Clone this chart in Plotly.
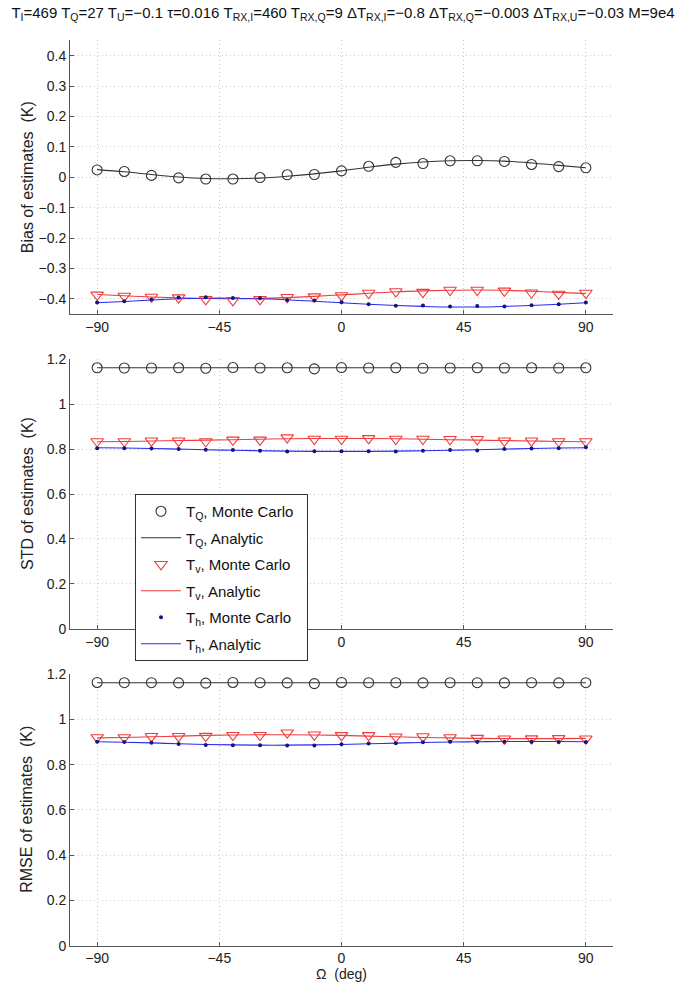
import plotly.graph_objects as go

# ---------------- data ----------------
omega = [-90, -80, -70, -60, -50, -40, -30, -20, -10, 0, 10, 20, 30, 40, 50, 60, 70, 80, 90]

# Bias
bias_tq_mc = [0.024, 0.019, 0.006, -0.002, -0.006, -0.006, -0.001, 0.008, 0.009, 0.021,
              0.036, 0.049, 0.045, 0.054, 0.054, 0.052, 0.042, 0.035, 0.031]
bias_tq_an = [0.025, 0.018, 0.009, 0.001, -0.004, -0.005, -0.003, 0.003, 0.011, 0.021,
              0.033, 0.043, 0.050, 0.054, 0.055, 0.053, 0.047, 0.039, 0.031]
bias_tv_mc = [-0.387, -0.391, -0.394, -0.396, -0.402, -0.405, -0.402, -0.395, -0.393, -0.389,
              -0.381, -0.376, -0.378, -0.371, -0.371, -0.374, -0.380, -0.384, -0.381]
bias_tv_an = [-0.386, -0.390, -0.394, -0.397, -0.399, -0.400, -0.399, -0.396, -0.392, -0.387,
              -0.382, -0.377, -0.374, -0.372, -0.371, -0.372, -0.375, -0.379, -0.383]
bias_th_mc = [-0.412, -0.408, -0.402, -0.396, -0.395, -0.397, -0.398, -0.404, -0.406, -0.411,
              -0.418, -0.423, -0.422, -0.425, -0.424, -0.425, -0.421, -0.418, -0.412]
bias_th_an = [-0.413, -0.409, -0.404, -0.400, -0.398, -0.398, -0.400, -0.403, -0.408, -0.413,
              -0.418, -0.422, -0.425, -0.427, -0.427, -0.425, -0.422, -0.418, -0.413]

# STD
std_tq_mc = [1.162, 1.161, 1.161, 1.162, 1.160, 1.163, 1.161, 1.162, 1.157, 1.163,
             1.161, 1.162, 1.160, 1.161, 1.162, 1.161, 1.162, 1.161, 1.162]
std_tq_an = [1.162] * 19
std_tv_mc = [0.834, 0.834, 0.837, 0.837, 0.834, 0.841, 0.841, 0.851, 0.845, 0.845,
             0.848, 0.845, 0.845, 0.844, 0.844, 0.837, 0.837, 0.834, 0.834]
std_tv_an = [0.833, 0.834, 0.836, 0.838, 0.840, 0.842, 0.844, 0.846, 0.847, 0.847,
             0.847, 0.846, 0.844, 0.842, 0.840, 0.838, 0.836, 0.834, 0.833]
std_th_mc = [0.804, 0.804, 0.803, 0.800, 0.797, 0.796, 0.793, 0.789, 0.790, 0.791,
             0.790, 0.789, 0.793, 0.796, 0.794, 0.800, 0.803, 0.804, 0.808]
std_th_an = [0.806, 0.805, 0.803, 0.800, 0.797, 0.795, 0.793, 0.791, 0.790, 0.790,
             0.790, 0.791, 0.793, 0.795, 0.797, 0.800, 0.803, 0.805, 0.806]

# RMSE
rmse_tq_mc = [1.163, 1.162, 1.162, 1.161, 1.160, 1.163, 1.162, 1.161, 1.158, 1.163,
              1.162, 1.162, 1.161, 1.162, 1.162, 1.161, 1.162, 1.161, 1.162]
rmse_tq_an = [1.162] * 19
rmse_tv_mc = [0.920, 0.920, 0.925, 0.925, 0.926, 0.930, 0.930, 0.941, 0.932, 0.929,
              0.929, 0.923, 0.924, 0.920, 0.917, 0.914, 0.915, 0.916, 0.914]
rmse_tv_an = [0.918, 0.920, 0.923, 0.926, 0.929, 0.931, 0.932, 0.932, 0.931, 0.929,
              0.926, 0.923, 0.920, 0.918, 0.916, 0.915, 0.915, 0.915, 0.916]
rmse_th_mc = [0.901, 0.900, 0.897, 0.891, 0.887, 0.886, 0.886, 0.884, 0.884, 0.890,
              0.893, 0.894, 0.899, 0.901, 0.901, 0.901, 0.901, 0.900, 0.900]
rmse_th_an = [0.901, 0.899, 0.896, 0.892, 0.889, 0.887, 0.886, 0.886, 0.887, 0.889,
              0.892, 0.895, 0.898, 0.900, 0.901, 0.902, 0.902, 0.902, 0.901]

x_ticks = [-90, -45, 0, 45, 90]
y_titles = ["Bias of estimates  (K)", "STD of estimates  (K)", "RMSE of estimates  (K)"]
PAD = "\u00a0\u00a0"
legend_names = ["T<sub>Q</sub>, Monte Carlo" + PAD, "T<sub>Q</sub>, Analytic",
                "T<sub>v</sub>, Monte Carlo", "T<sub>v</sub>, Analytic",
                "T<sub>h</sub>, Monte Carlo", "T<sub>h</sub>, Analytic"]
title_text = ("T<sub>I</sub>=469 T<sub>Q</sub>=27 T<sub>U</sub>=−0.1 τ=0.016 T<sub>RX,I</sub>=460 "
              "T<sub>RX,Q</sub>=9 ΔT<sub>RX,I</sub>=−0.8 ΔT<sub>RX,Q</sub>=−0.003 "
              "ΔT<sub>RX,U</sub>=−0.03 M=9e4")

panels = [
    (bias_tq_mc, bias_tq_an, bias_tv_mc, bias_tv_an, bias_th_mc, bias_th_an),
    (std_tq_mc, std_tq_an, std_tv_mc, std_tv_an, std_th_mc, std_th_an),
    (rmse_tq_mc, rmse_tq_an, rmse_tv_mc, rmse_tv_an, rmse_th_mc, rmse_th_an),
]

# ---------------- layout geometry ----------------
W, H = 686, 993
FONT = "Liberation Sans, Arial, Helvetica, sans-serif"
x_dom = [70 / W, 613 / W]
pix = [(33, 311), (357, 631), (677, 953)]
y_doms = [[1 - b / H, 1 - t / H] for t, b in pix]
y_ranges = [[-0.45, 0.45], [0, 1.2], [0, 1.2]]
y_dticks = [0.1, 0.2, 0.2]

BLACK = "#333333"
RED = "#f03c3c"
BLUE = "#2b2bf0"
DOTBLUE = "#15157a"
TXT = "#222222"
AX = "#555555"
GRID = "#c8c8c8"

fig = go.Figure()

for i, (tq_mc, tq_an, tv_mc, tv_an, th_mc, th_an) in enumerate(panels):
    xa = "x" if i == 0 else f"x{i+1}"
    ya = "y" if i == 0 else f"y{i+1}"
    show = (i == 1)
    common = dict(showlegend=show, xaxis=xa, yaxis=ya)
    fig.add_trace(go.Scatter(x=omega, y=tq_an, mode="lines", line=dict(color=BLACK, width=1.1, shape="spline"),
                             name=legend_names[1], legendrank=2, legendgroup="g2", **common))
    fig.add_trace(go.Scatter(x=omega, y=tv_an, mode="lines", line=dict(color=RED, width=1.1, shape="spline"),
                             name=legend_names[3], legendrank=4, legendgroup="g4", **common))
    fig.add_trace(go.Scatter(x=omega, y=th_an, mode="lines", line=dict(color=BLUE, width=1.1, shape="spline"),
                             name=legend_names[5], legendrank=6, legendgroup="g6", **common))
    fig.add_trace(go.Scatter(x=omega, y=tq_mc, mode="markers",
                             marker=dict(symbol="circle-open", size=10, color=BLACK, line=dict(width=1.1, color=BLACK)),
                             name=legend_names[0], legendrank=1, legendgroup="g1", **common))
    fig.add_trace(go.Scatter(x=omega, y=tv_mc, mode="markers",
                             marker=dict(symbol="triangle-down-open", size=11, color=RED, line=dict(width=1.1, color=RED)),
                             name=legend_names[2], legendrank=3, legendgroup="g3", **common))
    fig.add_trace(go.Scatter(x=omega, y=th_mc, mode="markers",
                             marker=dict(symbol="circle", size=4, color=DOTBLUE),
                             name=legend_names[4], legendrank=5, legendgroup="g5", **common))

layout_axes = {}
for i in range(3):
    xk = "xaxis" if i == 0 else f"xaxis{i+1}"
    yk = "yaxis" if i == 0 else f"yaxis{i+1}"
    layout_axes[xk] = dict(
        domain=x_dom, range=[-100, 100], tickvals=x_ticks, anchor="y" if i == 0 else f"y{i+1}",
        showline=True, linecolor=AX, linewidth=1, mirror=False,
        ticks="inside", ticklen=4, tickcolor=AX,
        showgrid=True, gridcolor=GRID, griddash="1px,3px", gridwidth=1,
        zeroline=False, tickfont=dict(family=FONT, size=14, color=TXT),
        title=dict(text="Ω  (deg)", font=dict(family=FONT, size=14, color=TXT), standoff=1) if i == 2 else None,
    )
    layout_axes[yk] = dict(
        domain=y_doms[i], range=y_ranges[i], dtick=y_dticks[i], tick0=0,
        anchor="x" if i == 0 else f"x{i+1}",
        showline=True, linecolor=AX, linewidth=1, mirror=False,
        ticks="inside", ticklen=4, tickcolor=AX,
        showgrid=True, gridcolor=GRID, griddash="1px,3px", gridwidth=1,
        zeroline=False, tickfont=dict(family=FONT, size=14, color=TXT),
    )

annotations = []
for i in range(3):
    t, b = pix[i]
    annotations.append(dict(
        text=y_titles[i], xref="paper", yref="paper", x=27 / W, y=1 - (t + b) / 2 / H,
        xanchor="center", yanchor="middle", textangle=-90, showarrow=False,
        font=dict(family=FONT, size=16, color=TXT),
    ))

fig.update_layout(
    width=W, height=H,
    margin=dict(l=0, r=0, t=0, b=0),
    paper_bgcolor="white", plot_bgcolor="white",
    title=dict(text=title_text, x=0.5, xanchor="center", y=1 - 13 / H, yanchor="middle",
               font=dict(family=FONT, size=15, color="#111111")),
    legend=dict(x=135 / W, y=1 - 494 / H, xanchor="left", yanchor="top",
                bgcolor="white", bordercolor="#333333", borderwidth=1,
                font=dict(family=FONT, size=15, color="#111111"),
                tracegroupgap=4, itemwidth=40),
    annotations=annotations,
    showlegend=True,
    **layout_axes,
)

fig.write_html("out.html", config={"displayModeBar": False},
               post_script="document.body.style.margin='0px';")
